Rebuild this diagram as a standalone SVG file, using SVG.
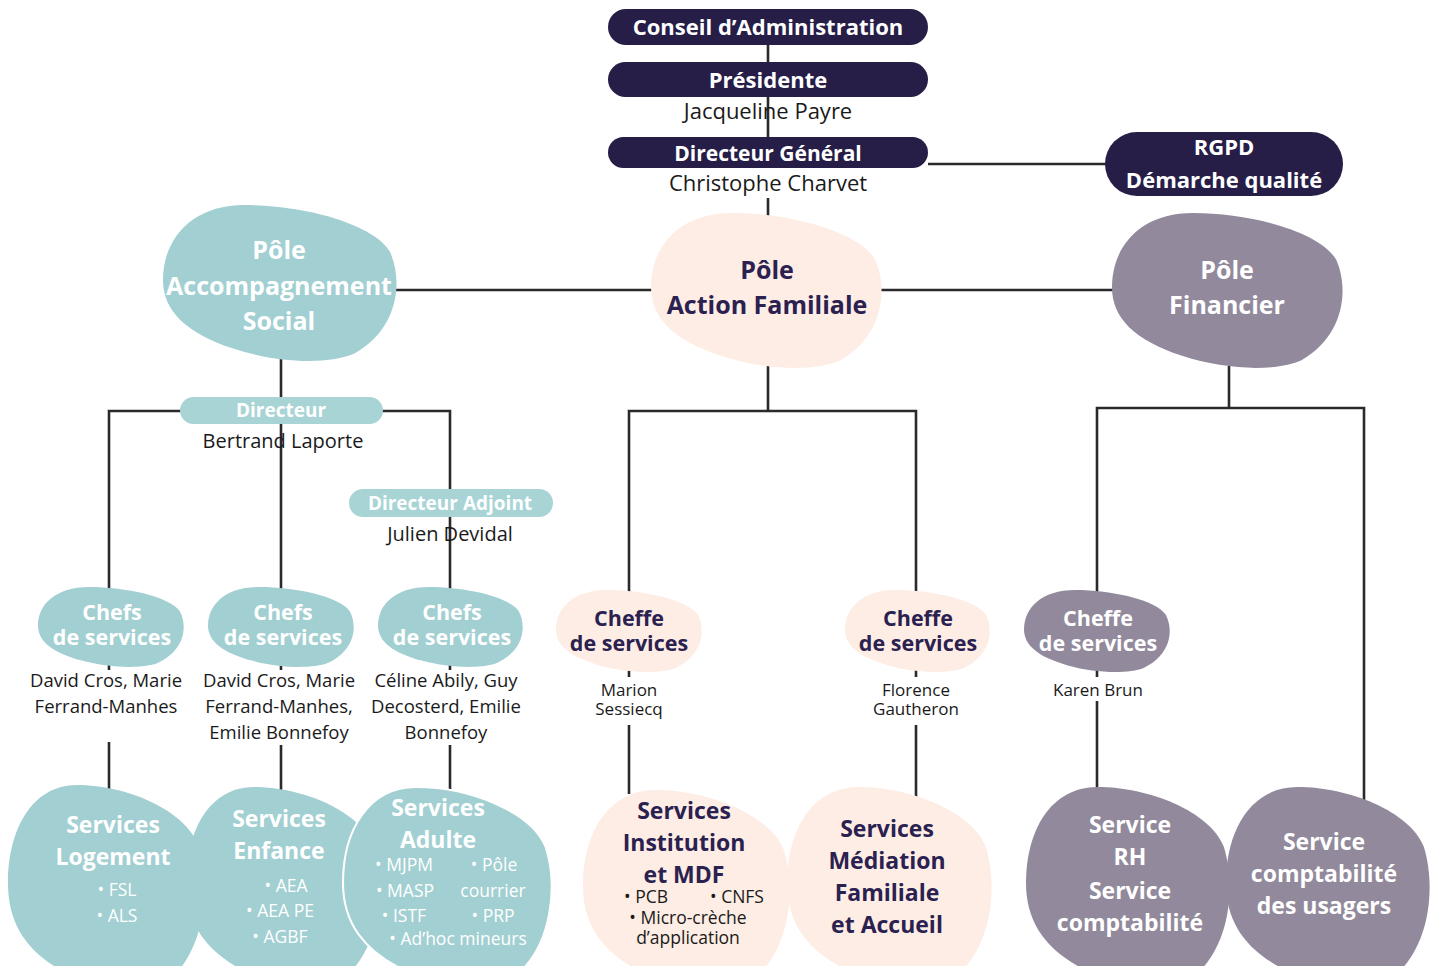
<svg xmlns="http://www.w3.org/2000/svg" width="1438" height="966" viewBox="0 0 1438 966">
<defs>
<path id="blob" d="M35 0 C60 0 90 12 97 30 C103 50 100 80 82 95 C72 102 50 102 30 92 C10 82 0 68 0 48 C0 22 12 0 35 0 Z"/>
</defs>
<style>
.conn{fill:none;stroke:#2a2a2c;stroke-width:2.6}
.navy{fill:#261e47}
.teal{fill:#a2cfd2}
.tealp{fill:#a8d4d6}
.peach{fill:#fdede4}
.gray{fill:#928a9c}
text{font-family:"Open Sans","Noto Sans","Liberation Sans",sans-serif;text-anchor:middle}
.hw{font-weight:700;fill:#ffffff}
.hn{font-weight:700;fill:#2b2150}
.nm{fill:#1a1a1a}
.bw{fill:#ffffff}
</style>
<rect width="1438" height="966" fill="#ffffff"/>
<g id="connectors">
<path class="conn" d="M768 45 V62"/>
<path class="conn" d="M768 97 V137"/>
<path class="conn" d="M928 164 H1106"/>
<path class="conn" d="M768 198 V218"/>
<path class="conn" d="M395 290 H1114"/>
<path class="conn" d="M281 358 V590"/>
<path class="conn" d="M109 592 V411 H450 V590"/>
<path class="conn" d="M109 665 V670 M281 665 V670 M450 665 V670"/>
<path class="conn" d="M109 742 V792 M281 745 V792 M450 745 V794"/>
<path class="conn" d="M768 366 V411"/>
<path class="conn" d="M629 594 V411 H916 V594"/>
<path class="conn" d="M629 670 V677 M916 670 V677"/>
<path class="conn" d="M629 725 V794 M916 725 V800"/>
<path class="conn" d="M1229 366 V408"/>
<path class="conn" d="M1097 594 V408 H1364 V804"/>
<path class="conn" d="M1097 670 V677 M1097 701 V792"/>
</g>
<g id="conseil">
<rect class="navy" x="608" y="9" width="320" height="36" rx="18"/>
<text class="hw" x="768" y="35" font-size="22">Conseil d’Administration</text>
</g>
<g id="presidente">
<rect class="navy" x="608" y="62" width="320" height="35" rx="17.5"/>
<text class="hw" x="768" y="88" font-size="22">Présidente</text>
<text class="nm" x="768" y="119" font-size="22">Jacqueline Payre</text>
</g>
<g id="directeur-general">
<rect class="navy" x="608" y="137" width="320" height="31" rx="15.5"/>
<text class="hw" x="768" y="161" font-size="21">Directeur Général</text>
<text class="nm" x="768" y="191" font-size="22">Christophe Charvet</text>
</g>
<g id="rgpd">
<rect class="navy" x="1105" y="132" width="238" height="64" rx="32"/>
<text class="hw" x="1224" y="155" font-size="22">RGPD</text>
<text class="hw" x="1224" y="188" font-size="22">Démarche qualité</text>
</g>
<g id="pole-accompagnement">
<use href="#blob" class="teal" transform="translate(163 205) scale(2.34 1.56)"/>
<text class="hw" x="279" y="259" font-size="25">Pôle</text>
<text class="hw" x="279" y="295" font-size="25">Accompagnement</text>
<text class="hw" x="279" y="330" font-size="25">Social</text>
</g>
<g id="pole-action-familiale">
<use href="#blob" class="peach" transform="translate(651 213) scale(2.31 1.55)"/>
<text class="hn" x="767" y="279" font-size="25">Pôle</text>
<text class="hn" x="767" y="314" font-size="25">Action Familiale</text>
</g>
<g id="pole-financier">
<use href="#blob" class="gray" transform="translate(1112 213) scale(2.31 1.55)"/>
<text class="hw" x="1227" y="279" font-size="25">Pôle</text>
<text class="hw" x="1227" y="314" font-size="25">Financier</text>
</g>
<g id="directeur">
<rect class="tealp" x="180" y="397" width="203" height="27" rx="13.5"/>
<text class="hw" x="281" y="417" font-size="19">Directeur</text>
<text class="nm" x="283" y="448" font-size="20">Bertrand Laporte</text>
</g>
<g id="directeur-adjoint">
<rect class="tealp" x="349" y="489" width="204" height="28" rx="14"/>
<text class="hw" x="450" y="510" font-size="19">Directeur Adjoint</text>
<text class="nm" x="450" y="541" font-size="20">Julien Devidal</text>
</g>
<g id="chefs-1">
<use href="#blob" class="teal" transform="translate(38 587) scale(1.46 0.8)"/>
<text class="hw" x="112" y="620" font-size="21.5">Chefs</text>
<text class="hw" x="112" y="645" font-size="21.5">de services</text>
<text class="nm" x="106" y="687" font-size="18.5">David Cros, Marie</text>
<text class="nm" x="106" y="713" font-size="18.5">Ferrand-Manhes</text>
</g>
<g id="chefs-2">
<use href="#blob" class="teal" transform="translate(208 587) scale(1.46 0.8)"/>
<text class="hw" x="283" y="620" font-size="21.5">Chefs</text>
<text class="hw" x="283" y="645" font-size="21.5">de services</text>
<text class="nm" x="279" y="687" font-size="18.5">David Cros, Marie</text>
<text class="nm" x="279" y="713" font-size="18.5">Ferrand-Manhes,</text>
<text class="nm" x="279" y="739" font-size="18.5">Emilie Bonnefoy</text>
</g>
<g id="chefs-3">
<use href="#blob" class="teal" transform="translate(378 587) scale(1.45 0.8)"/>
<text class="hw" x="452" y="620" font-size="21.5">Chefs</text>
<text class="hw" x="452" y="645" font-size="21.5">de services</text>
<text class="nm" x="446" y="687" font-size="18.5">Céline Abily, Guy</text>
<text class="nm" x="446" y="713" font-size="18.5">Decosterd, Emilie</text>
<text class="nm" x="446" y="739" font-size="18.5">Bonnefoy</text>
</g>
<g id="cheffe-1">
<use href="#blob" class="peach" transform="translate(556 590) scale(1.46 0.82)"/>
<text class="hn" x="629" y="626" font-size="21.5">Cheffe</text>
<text class="hn" x="629" y="651" font-size="21.5">de services</text>
<text class="nm" x="629" y="696" font-size="17">Marion</text>
<text class="nm" x="629" y="715" font-size="17">Sessiecq</text>
</g>
<g id="cheffe-2">
<use href="#blob" class="peach" transform="translate(845 590) scale(1.45 0.82)"/>
<text class="hn" x="918" y="626" font-size="21.5">Cheffe</text>
<text class="hn" x="918" y="651" font-size="21.5">de services</text>
<text class="nm" x="916" y="696" font-size="17">Florence</text>
<text class="nm" x="916" y="715" font-size="17">Gautheron</text>
</g>
<g id="cheffe-3">
<use href="#blob" class="gray" transform="translate(1024 590) scale(1.46 0.82)"/>
<text class="hw" x="1098" y="626" font-size="21.5">Cheffe</text>
<text class="hw" x="1098" y="651" font-size="21.5">de services</text>
<text class="nm" x="1098" y="696" font-size="17">Karen Brun</text>
</g>
<g id="services-logement">
<use href="#blob" class="teal" transform="translate(8 785) scale(1.97 2.05)"/>
<text class="hw" x="113" y="833" font-size="23">Services</text>
<text class="hw" x="113" y="865" font-size="23">Logement</text>
<text class="bw" x="117" y="896" font-size="17.5">• FSL</text>
<text class="bw" x="117" y="922" font-size="17.5">• ALS</text>
</g>
<g id="services-enfance">
<use href="#blob" class="teal" transform="translate(186 787) scale(1.94 2.0)"/>
<text class="hw" x="279" y="827" font-size="23">Services</text>
<text class="hw" x="279" y="859" font-size="23">Enfance</text>
<text class="bw" x="286" y="892" font-size="17.5">• AEA</text>
<text class="bw" x="280" y="917" font-size="17.5">• AEA PE</text>
<text class="bw" x="280" y="943" font-size="17.5">• AGBF</text>
</g>
<g id="services-adulte">
<use href="#blob" class="teal" transform="translate(343 787) scale(2.09 2.0)" stroke="#ffffff" stroke-width="1" vector-effect="non-scaling-stroke"/>
<text class="hw" x="438" y="816" font-size="23">Services</text>
<text class="hw" x="438" y="848" font-size="23">Adulte</text>
<text class="bw" x="404" y="871" font-size="17.5">• MJPM</text>
<text class="bw" x="494" y="871" font-size="17.5">• Pôle</text>
<text class="bw" x="405" y="897" font-size="17.5">• MASP</text>
<text class="bw" x="493" y="897" font-size="17.5">courrier</text>
<text class="bw" x="404" y="922" font-size="17.5">• ISTF</text>
<text class="bw" x="493" y="922" font-size="17.5">• PRP</text>
<text class="bw" x="458" y="945" font-size="17.5">• Ad’hoc mineurs</text>
</g>
<g id="services-institution">
<use href="#blob" class="peach" transform="translate(583 790) scale(2.07 2.0)"/>
<text class="hn" x="684" y="819" font-size="23">Services</text>
<text class="hn" x="684" y="851" font-size="23">Institution</text>
<text class="hn" x="684" y="883" font-size="23">et MDF</text>
<text class="nm" x="646" y="903" font-size="17.5">• PCB</text>
<text class="nm" x="737" y="903" font-size="17.5">• CNFS</text>
<text class="nm" x="688" y="924" font-size="17.5">• Micro-crèche</text>
<text class="nm" x="688" y="944" font-size="17.5">d’application</text>
</g>
<g id="services-mediation">
<use href="#blob" class="peach" transform="translate(787 787) scale(2.05 2.0)"/>
<text class="hn" x="887" y="837" font-size="23">Services</text>
<text class="hn" x="887" y="869" font-size="23">Médiation</text>
<text class="hn" x="887" y="901" font-size="23">Familiale</text>
<text class="hn" x="887" y="933" font-size="23">et Accueil</text>
</g>
<g id="service-rh">
<use href="#blob" class="gray" transform="translate(1026 787) scale(2.04 2.0)"/>
<text class="hw" x="1130" y="833" font-size="23">Service</text>
<text class="hw" x="1130" y="865" font-size="23">RH</text>
<text class="hw" x="1130" y="899" font-size="23">Service</text>
<text class="hw" x="1130" y="931" font-size="23">comptabilité</text>
</g>
<g id="service-usagers">
<use href="#blob" class="gray" transform="translate(1226 787) scale(2.04 2.0)"/>
<text class="hw" x="1324" y="850" font-size="23">Service</text>
<text class="hw" x="1324" y="882" font-size="23">comptabilité</text>
<text class="hw" x="1324" y="914" font-size="23">des usagers</text>
</g>
</svg>
